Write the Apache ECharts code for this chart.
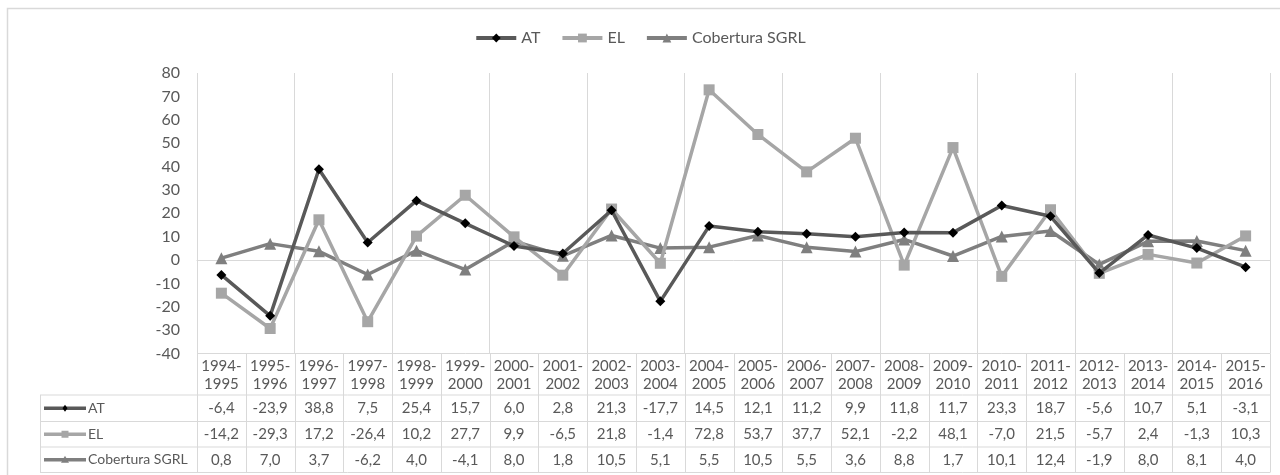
<!DOCTYPE html>
<html>
<head>
<meta charset="utf-8">
<title>AT, EL y Cobertura SGRL</title>
<script src="https://cdn.jsdelivr.net/npm/echarts@6/dist/echarts.min.js"></script>
<style>
  html, body { margin: 0; padding: 0; background: #ffffff; }
  #chart { width: 1280px; height: 475px; }
</style>
</head>
<body>
<div id="chart"></div>
<script>
// Periods (two-line headers in the data table)
const periods = [
  '1994-1995', '1995-1996', '1996-1997', '1997-1998', '1998-1999', '1999-2000',
  '2000-2001', '2001-2002', '2002-2003', '2003-2004', '2004-2005', '2005-2006',
  '2006-2007', '2007-2008', '2008-2009', '2009-2010', '2010-2011', '2011-2012',
  '2012-2013', '2013-2014', '2014-2015', '2015-2016'
];

const seriesNames = ['AT', 'EL', 'Cobertura SGRL'];

const atValues = [-6.4, -23.9, 38.8, 7.5, 25.4, 15.7, 6.0, 2.8, 21.3, -17.7, 14.5,
  12.1, 11.2, 9.9, 11.8, 11.7, 23.3, 18.7, -5.6, 10.7, 5.1, -3.1];

const elValues = [-14.2, -29.3, 17.2, -26.4, 10.2, 27.7, 9.9, -6.5, 21.8, -1.4, 72.8,
  53.7, 37.7, 52.1, -2.2, 48.1, -7.0, 21.5, -5.7, 2.4, -1.3, 10.3];

const sgrlValues = [0.8, 7.0, 3.7, -6.2, 4.0, -4.1, 8.0, 1.8, 10.5, 5.1, 5.5,
  10.5, 5.5, 3.6, 8.8, 1.7, 10.1, 12.4, -1.9, 8.0, 8.1, 4.0];

const yTicks = { min: -40, max: 80, step: 10 };

// Styling
const FONT = 'Lato, "Open Sans", "Noto Sans", sans-serif';
const TEXT = '#595959';
const GRID_LINE = '#d9d9d9';
const styles = [
  { line: '#595959', marker: '#000000', symbol: 'diamond', size: 10 },
  { line: '#a6a6a6', marker: '#a6a6a6', symbol: 'rect', size: 11 },
  { line: '#7f7f7f', marker: '#7f7f7f', symbol: 'triangle', size: 12 }
];
const valueRows = [atValues, elValues, sgrlValues];

const plot = { left: 197, right: 1270, top: 73, bottom: 353.5 };
const table = { left: 40, headerBottom: 395, rows: [395, 421.5, 447, 472.5] };

const fmt = v => v.toFixed(1).replace('.', ',');

const chart = echarts.init(document.getElementById('chart'), null, { renderer: 'canvas' });

const option = {
  backgroundColor: '#ffffff',
  animation: false,
  textStyle: { fontFamily: FONT },
  legend: {
    top: 25,
    left: 'center',
    itemWidth: 40,
    itemHeight: 11,
    itemGap: 20,
    textStyle: { fontSize: 16, color: TEXT, fontFamily: FONT },
    data: seriesNames.map((name, k) => ({
      name: name,
      lineStyle: { color: styles[k].line, width: 4 },
      itemStyle: { color: styles[k].marker }
    }))
  },
  grid: {
    left: plot.left,
    top: plot.top,
    width: plot.right - plot.left,
    height: plot.bottom - plot.top,
    containLabel: false
  },
  xAxis: {
    type: 'category',
    data: periods,
    boundaryGap: true,
    axisLine: { onZero: true, lineStyle: { color: GRID_LINE, width: 1 } },
    axisTick: { show: false },
    axisLabel: { show: false },
    splitLine: { show: true, lineStyle: { color: GRID_LINE, width: 1 } }
  },
  yAxis: {
    type: 'value',
    min: yTicks.min,
    max: yTicks.max,
    interval: yTicks.step,
    axisLine: { show: false },
    axisTick: { show: false },
    splitLine: { show: false },
    axisLabel: { fontSize: 16, color: TEXT, margin: 17, fontFamily: FONT }
  },
  series: seriesNames.map((name, k) => ({
    name: name,
    type: 'line',
    data: valueRows[k],
    symbol: styles[k].symbol,
    symbolSize: styles[k].size,
    showAllSymbol: true,
    lineStyle: { color: styles[k].line, width: 3.5 },
    itemStyle: { color: styles[k].marker, borderWidth: 0 },
    emphasis: { disabled: true },
    z: 3 - k + (k === 0 ? 2 : 0)
  }))
};

chart.setOption(option);

// Data table under the plot, aligned with the category axis
function buildTable() {
  const els = [];
  const n = periods.length;
  const xs = periods.map((p, i) => chart.convertToPixel({ xAxisIndex: 0 }, i));
  const colW = (plot.right - plot.left) / n;
  const lineStyle = { stroke: GRID_LINE, lineWidth: 1 };

  // Outer chart frame
  els.push({
    type: 'rect',
    shape: { x: 7.5, y: 8.5, width: 1300, height: 500 },
    style: { fill: null, stroke: GRID_LINE, lineWidth: 1.5 },
    silent: true
  });

  // Header top line
  els.push({ type: 'line', shape: { x1: plot.left, y1: plot.bottom, x2: plot.right, y2: plot.bottom }, style: lineStyle, silent: true });
  // Row lines
  table.rows.forEach(y => {
    els.push({ type: 'line', shape: { x1: table.left, y1: y, x2: plot.right, y2: y }, style: lineStyle, silent: true });
  });
  // Column borders through the table
  for (let i = 0; i <= n; i++) {
    const x = Math.round(xs[0] - colW / 2 + i * colW) + 0.5;
    els.push({ type: 'line', shape: { x1: x, y1: plot.bottom, x2: x, y2: table.rows[3] }, style: lineStyle, silent: true });
  }
  // Left border of the label column
  els.push({ type: 'line', shape: { x1: table.left + 0.5, y1: table.rows[0], x2: table.left + 0.5, y2: table.rows[3] }, style: lineStyle, silent: true });

  // Header labels (two lines each)
  periods.forEach((p, i) => {
    const parts = p.split('-');
    els.push({
      type: 'text',
      x: xs[i], y: (plot.bottom + table.headerBottom) / 2 + 1,
      style: {
        text: parts[0] + '-\n' + parts[1],
        fill: TEXT, font: '15px ' + FONT,
        align: 'center', verticalAlign: 'middle', lineHeight: 18
      },
      silent: true
    });
  });

  // Value rows with series keys
  valueRows.forEach((vals, k) => {
    const yc = (table.rows[k] + table.rows[k + 1]) / 2;
    // key: line with marker
    els.push({ type: 'line', shape: { x1: 44, y1: yc, x2: 86, y2: yc }, style: { stroke: styles[k].line, lineWidth: 3.5 }, silent: true });
    if (styles[k].symbol === 'diamond') {
      els.push({ type: 'polygon', shape: { points: [[65, yc - 3.5], [67.5, yc], [65, yc + 3.5], [62.5, yc]] }, style: { fill: styles[k].marker }, silent: true });
    } else if (styles[k].symbol === 'rect') {
      els.push({ type: 'rect', shape: { x: 61.5, y: yc - 3.5, width: 7, height: 7 }, style: { fill: styles[k].marker }, silent: true });
    } else {
      els.push({ type: 'polygon', shape: { points: [[65, yc - 4], [69, yc + 3], [61, yc + 3]] }, style: { fill: styles[k].marker }, silent: true });
    }
    els.push({
      type: 'text', x: 88, y: yc,
      style: { text: seriesNames[k], fill: TEXT, font: '14px ' + FONT, align: 'left', verticalAlign: 'middle' },
      silent: true
    });
    vals.forEach((v, i) => {
      els.push({
        type: 'text', x: xs[i], y: yc,
        style: { text: fmt(v), fill: TEXT, font: '15px ' + FONT, align: 'center', verticalAlign: 'middle' },
        silent: true
      });
    });
  });

  chart.setOption({ graphic: { elements: els } });
}

buildTable();
</script>
</body>
</html>
